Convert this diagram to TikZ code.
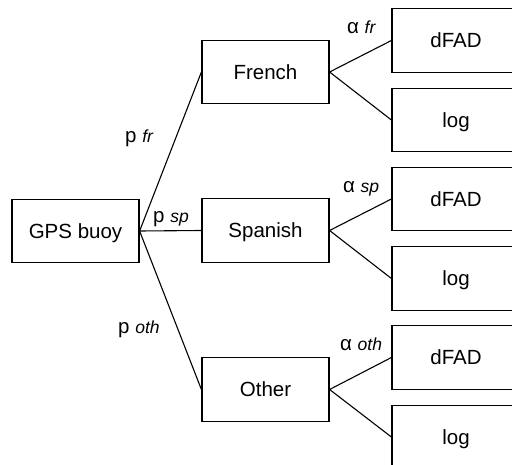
\documentclass[tikz,border=0pt]{standalone}
\usepackage{fontspec}
\setmainfont{Liberation Sans}
\newcommand{\boxfont}{\fontsize{20.5}{24}\selectfont}
\newcommand{\subf}[1]{{\fontsize{17.5}{20}\selectfont\itshape #1}}
\begin{document}
\begin{tikzpicture}[x=1pt,y=-1pt,
  box/.style={draw, line width=1.2pt, minimum width=127pt, minimum height=63.5pt, inner sep=0pt, font=\boxfont, text height=14.8pt, text depth=0pt},
  rbox/.style={box, minimum width=128pt},
  lbl/.style={anchor=base west, inner sep=0pt, font=\boxfont},
  conn/.style={line width=1.1pt}]
\clip (0,0) rectangle (512,465);
\fill[white] (0,0) rectangle (512,465);
% boxes
\node[box] (gps) at (75.5,231) {GPS buoy};
\node[box] (fr) at (265.5,72) {French};
\node[box] (sp) at (265.5,230.5) {Spanish};
\node[box] (oth) at (265.5,389.5) {Other};
\node[rbox] (d1) at (456,40.5) {dFAD};
\node[rbox] (l1) at (456,120) {log};
\node[rbox] (d2) at (456,199) {dFAD};
\node[rbox] (l2) at (456,278.5) {log};
\node[rbox] (d3) at (456,357.5) {dFAD};
\node[rbox] (l3) at (456,437) {log};
% connectors
\draw[conn] (gps.east) -- (fr.west);
\draw[conn] (gps.east) -- (sp.west);
\draw[conn] (gps.east) -- (oth.west);
\draw[conn] (fr.east) -- (d1.west);
\draw[conn] (fr.east) -- (l1.west);
\draw[conn] (sp.east) -- (d2.west);
\draw[conn] (sp.east) -- (l2.west);
\draw[conn] (oth.east) -- (d3.west);
\draw[conn] (oth.east) -- (l3.west);
% labels
\node[lbl] (pfr) at (125,143) {p \subf{fr}};
\node[lbl] (psp) at (153,223) {p \subf{sp}};
\node[lbl] (poth) at (118,334) {p \subf{oth}};
\node[lbl] (afr) at (347,34) {α \subf{fr}};
\node[lbl] (asp) at (343,193) {α \subf{sp}};
\node[lbl] (aoth) at (340,351) {α \subf{oth}};
\end{tikzpicture}
\end{document}
